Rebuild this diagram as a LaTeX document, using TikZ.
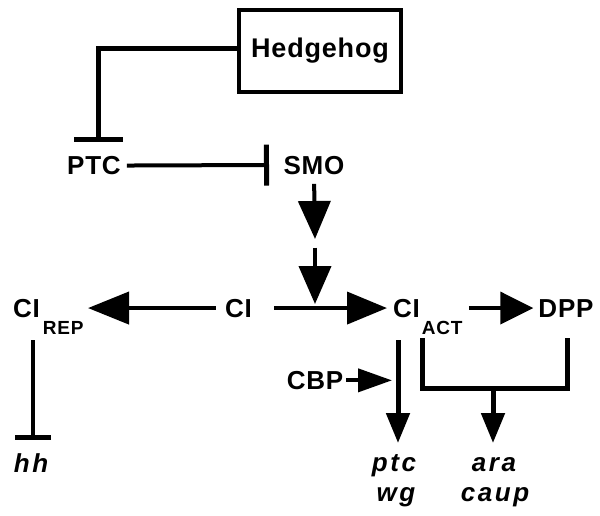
\documentclass[tikz,border=0pt]{standalone}
\usepackage{fontspec}
\setmainfont{Liberation Sans}[LetterSpace=3]
\newfontfamily\genefont{Liberation Sans}[LetterSpace=10]
\newfontfamily\subfont{Liberation Sans}[LetterSpace=4]
\usetikzlibrary{arrows.meta}
\newcommand{\subtxt}[1]{\raisebox{-17pt}{\subfont\bfseries\fontsize{19}{19}\selectfont #1}}
\begin{document}
\begin{tikzpicture}[x=1pt,y=-1pt,
  lbl/.style={inner sep=0pt, anchor=base, font=\bfseries\fontsize{26}{30}\selectfont},
  gene/.style={inner sep=0pt, anchor=base, font=\genefont\bfseries\itshape\fontsize{26}{30}\selectfont},
  thk/.style={line width=5pt},
  mid/.style={line width=4pt},
  bigtip/.style={-{Triangle[length=#1,width=32pt]}},
  smalltip/.style={-{Triangle[length=30pt,width=23pt]}},
  inh/.style={-{Bar[width=#1,line width=5pt]}}
]
\useasboundingbox (0,0) rectangle (600,516);

% nodes
\node[draw, line width=4.5pt, inner sep=0pt, minimum width=162pt, minimum height=82pt,
      font=\bfseries\fontsize{27}{32}\selectfont] (hedge) at (320,51) {Hedgehog};
\node[lbl] (ptc) at (94,174.5) {PTC};
\node[lbl] (smo) at (314,174.5) {SMO};
\node[lbl] (ci) at (238.5,317) {CI};
\node[lbl, anchor=base west] (cirep) at (13,317) {CI\kern3pt\subtxt{REP}};
\node[lbl, anchor=base west] (ciact) at (393,317) {CI\kern2pt\subtxt{ACT}};
\node[lbl] (dpp) at (566,317) {DPP};
\node[lbl] (cbp) at (315,389.3) {CBP};
\node[gene] (hh) at (31,472) {hh};
\node[gene] (gptc) at (394,471) {ptc};
\node[gene] (gwg) at (396,501) {wg};
\node[gene] (gara) at (494,471) {ara};
\node[gene] (gcaup) at (495,501) {caup};

% coordinates for free ends
\coordinate (hbar) at (98,142);
\coordinate (smobar) at (269,165);
\coordinate (m1) at (315,239);
\coordinate (m2) at (315,247.5);
\coordinate (m3) at (315,304);
\coordinate (tipL) at (88,308);
\coordinate (v1) at (398,340);
\coordinate (v2) at (398,443);
\coordinate (b1) at (422,338);
\coordinate (bmid) at (493,388);
\coordinate (b2) at (567,338);
\coordinate (b5) at (493,443);
\coordinate (r1) at (33,340);
\coordinate (r2) at (33,440);

% connectors
\draw[thk, inh=49pt] ([yshift=2pt]hedge.west) -| (hbar);
\draw[mid, inh=41pt, shorten <=6pt] (ptc.east) -- (smobar);
\draw[mid, bigtip=38pt, shorten <=9pt] (smo.south) -- (m1);
\draw[mid, bigtip=38pt] (m2) -- (m3);
\draw[mid, bigtip=41pt, shorten <=9pt] (ci.west) -- (ci.west -| tipL);
\draw[mid, bigtip=40pt, shorten <=22pt, shorten >=6pt] (ci.east) -- (ciact.west |- ci.east);
\draw[mid, bigtip=33pt, shorten <=6pt, shorten >=5pt] (ciact.east |- ci.east) -- (dpp.west |- ci.east);
\draw[thk, smalltip] (v1) -- (v2);
\draw[mid, -{Triangle[length=34pt,width=23pt]}, shorten <=3pt, shorten >=6pt] (cbp.east) -- (v1 |- cbp.east);
\draw[thk] (b1) |- (bmid) -| (b2);
\draw[thk, smalltip] (bmid) -- (b5);
\draw[mid, inh=36pt] (r1) -- (r2);
\end{tikzpicture}
\end{document}
